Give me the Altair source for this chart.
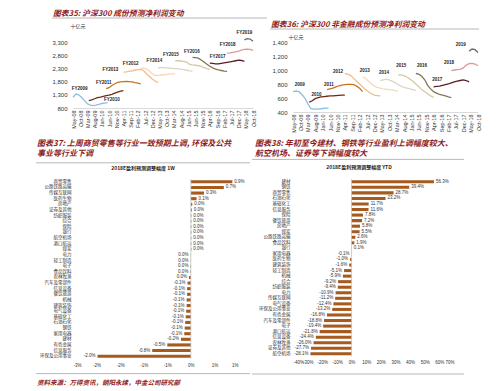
import json
import altair as alt
import pandas as pd

CJK = "Noto Sans CJK SC"
NUM = "Liberation Sans"
TITLE_RED = "#8e1b1b"
BAR = "#a65a1e"
RULE_GRAY = "#a6a6a6"

# ---------------- line charts data ----------------
month_labels = ["May-08", "Oct-08", "Mar-09", "Aug-09", "Jan-10", "Jun-10", "Nov-10",
                "Apr-11", "Sep-11", "Feb-12", "Jul-12", "Dec-12", "May-13", "Oct-13",
                "Mar-14", "Aug-14", "Jan-15", "Jun-15", "Nov-15", "Apr-16", "Sep-16",
                "Feb-17", "Jul-17", "Dec-17", "May-18", "Oct-18"]
fy_names = ["FY2009", "FY2010", "FY2011", "FY2012", "FY2013", "FY2014",
            "FY2015", "FY2016", "FY2017", "FY2018", "FY2019"]
yr_names = ["2009", "2010", "2011", "2012", "2013", "2014",
            "2015", "2016", "2017", "2018", "2019"]
# first month of each forecast series (0 = May-08), points every 2 months
start_months = [0, 11, 23, 35, 47, 59, 71, 83, 95, 107, 119]
line_colors = ["#8cbfe0", "#6e2a14", "#c9731e", "#f3bd8a", "#f5d9bd", "#dcd6c0",
               "#d6c9a3", "#857652", "#5a1c24", "#d99a9a", "#6b6b6b"]

hs300_fy2009 = [1200, 1330, 1300, 1200, 1080, 960, 910, 890, 910, 940, 970, 985, 1000]
hs300_fy2010 = [1080, 1110, 1150, 1190, 1210, 1240, 1270, 1290, 1320, 1360, 1400, 1440, 1460]
hs300_fy2011 = [1530, 1570, 1650, 1720, 1770, 1790, 1800, 1810, 1800, 1790, 1760, 1740, 1710]
hs300_fy2012 = [2160, 2170, 2190, 2210, 2230, 2250, 2260, 2220, 2100, 2000, 1900, 1820, 1760]
hs300_fy2013 = [2300, 2310, 2280, 2200, 2100, 2040, 2030, 2050, 2060, 2070, 2080, 2090, 2100]
hs300_fy2014 = [2320, 2330, 2330, 2320, 2310, 2300, 2290, 2280, 2270, 2250, 2230, 2210, 2200]
hs300_fy2015 = [2590, 2590, 2580, 2570, 2540, 2450, 2430, 2420, 2400, 2380, 2330, 2290, 2260]
hs300_fy2016 = [2720, 2710, 2690, 2620, 2540, 2460, 2380, 2320, 2270, 2240, 2220, 2200, 2190]
hs300_fy2017 = [2500, 2490, 2470, 2470, 2490, 2510, 2530, 2550, 2570, 2590, 2610, 2600, 2570]
hs300_fy2018 = [2880, 2890, 2910, 2930, 2950, 2990, 3020, 3030, 3020, 2980]
hs300_fy2019 = [3380, 3430, 3410, 3330]
hs300_series = [hs300_fy2009, hs300_fy2010, hs300_fy2011, hs300_fy2012, hs300_fy2013,
                hs300_fy2014, hs300_fy2015, hs300_fy2016, hs300_fy2017, hs300_fy2018,
                hs300_fy2019]
label_month_35 = [4.6, 27, 21.3, 40, 26, 56.5, 68, 82.6, 100.5, 107.4, 119]
label_value_35 = [1532, 1103, 1760, 2467, 2240, 2580, 2795, 2921, 2744, 3174, 3641]

nonfin_2009 = [690, 700, 690, 650, 600, 520, 450, 440, 440, 445, 450, 455, 455]
nonfin_2010 = [540, 560, 590, 605, 615, 620, 625, 630, 630, 635, 638, 640, 640]
nonfin_2011 = [720, 730, 740, 760, 775, 785, 790, 795, 795, 790, 770, 740, 690]
nonfin_2012 = [950, 940, 920, 880, 840, 800, 760, 720, 690, 660, 640, 635, 630]
nonfin_2013 = [900, 880, 840, 800, 770, 750, 740, 730, 725, 720, 715, 705, 700]
nonfin_2014 = [850, 860, 870, 860, 840, 820, 790, 770, 750, 740, 730, 720, 710]
nonfin_2015 = [930, 930, 920, 900, 870, 840, 800, 760, 720, 690, 660, 630, 610]
nonfin_2016 = [950, 940, 910, 860, 780, 730, 690, 670, 650, 640, 630, 615, 605]
nonfin_2017 = [760, 765, 770, 780, 790, 800, 815, 830, 840, 850, 860, 850, 830]
nonfin_2018 = [990, 1000, 1005, 1010, 1030, 1070, 1090, 1095, 1085, 1060]
nonfin_2019 = [1270, 1300, 1290, 1250]
nonfin_series = [nonfin_2009, nonfin_2010, nonfin_2011, nonfin_2012, nonfin_2013,
                 nonfin_2014, nonfin_2015, nonfin_2016, nonfin_2017, nonfin_2018,
                 nonfin_2019]
label_month_36 = [4.5, 15.8, 24.3, 30.4, 48.4, 61.5, 73.2, 87.2, 97.5, 105.4, 113.3]
label_value_36 = [790, 638, 781, 971, 986, 962, 1057, 1057, 862, 1100, 1362]

# ---------------- bar charts data ----------------
cats_1w = ["商贸零售", "公路铁路运输", "传媒互联网", "医药生物", "房地产", "证券及其他",
           "纺织服装", "综合", "保险", "银行", "航空机场", "港口航运", "煤炭", "电力",
           "轻工制造", "电子", "食品饮料", "农林牧渔", "汽车及零部件", "信息设备",
           "餐饮旅游", "机械", "建筑装饰", "电气设备", "基础化工", "石油石化", "钢铁",
           "家用电器", "建材", "有色金属", "信息服务", "环保及公用事业"]
vals_1w = [0.88, 0.70, 0.28, 0.12, 0.03, 0.02, 0.01, 0.01, 0.01, 0.01, 0.01, 0.01, 0.01,
           -0.005, -0.005, -0.01, -0.01, -0.04, -0.07, -0.08, -0.08, -0.09, -0.09, -0.1,
           -0.11, -0.12, -0.13, -0.14, -0.21, -0.5, -0.82, -1.98]
ticks_1w = [-2.5, -2.0, -1.5, -1.0, -0.5, 0.0, 0.5, 1.0]
tick_labels_1w = ["-3%", "-2%", "-2%", "-1%", "-1%", "0%", "1%", "1%"]

cats_ytd = ["建材", "钢铁", "商贸零售", "石油石化", "基础化工", "信息服务", "保险",
            "餐饮旅游", "房地产", "煤炭", "公路铁路运输", "食品饮料", "银行", "家用电器",
            "医药生物", "建筑装饰", "轻工制造", "机械", "综合", "纺织服装", "电力",
            "传媒互联网", "电气设备", "环保及公用事业", "有色金属", "汽车及零部件", "电子",
            "港口航运", "信息设备", "农林牧渔", "证券及其他", "航空机场"]
vals_ytd = [56.3, 39.4, 28.7, 23.2, 11.7, 11.6, 7.8, 7.2, 5.8, 5.5, 2.6, 1.9, 0.1, -0.1,
            -1.0, -1.6, -5.1, -5.9, -9.2, -9.4, -10.9, -11.2, -12.4, -13.2, -16.8, -18.8,
            -19.4, -21.8, -24.4, -26.0, -27.7, -28.1]
ticks_ytd = [-40, -30, -20, -10, 0, 10, 20, 30, 40, 50, 60, 70]
tick_labels_ytd = ["-40%", "-30%", "-20%", "-10%", "0%", "10%", "20%", "30%", "40%",
                   "50%", "60%", "70%"]

title_35 = "图表35: 沪深300 成份预测净利润变动"
title_36 = "图表36: 沪深300 非金融成份预测净利润变动"
title_37 = ["图表37: 上周商贸零售等行业一致预期上调, 环保及公共", "事业等行业下调"]
title_38 = ["图表38: 年初至今建材、钢铁等行业盈利上调幅度较大、", "航空机场、证券等下调幅度较大"]
sub_37 = "2018E盈利预测调整幅度 1W"
sub_38 = "2018E盈利预测调整幅度 YTD"
unit_text = "十亿元"
footer_text = "资料来源：万得资讯，朝阳永续，中金公司研究部"

one = pd.DataFrame({"k": [0]})


def series_frame(names, series):
    rows = []
    for name, start, vals in zip(names, start_months, series):
        for i, v in enumerate(vals):
            rows.append({"series": name, "month": start + 2 * i, "value": v})
    return pd.DataFrame(rows)


def text_at(text, x, y, size, color="#222", align="left", bold=False, italic=False,
            font=CJK, baseline="middle"):
    kw = dict(align=align, baseline=baseline, fontSize=size, font=font, color=color)
    if bold:
        kw["fontWeight"] = "bold"
    if italic:
        kw["fontStyle"] = "italic"
    return alt.Chart(one).mark_text(**kw).encode(
        x=alt.value(x), y=alt.value(y), text=alt.value(text))


def hrule(x0, x1, y):
    return alt.Chart(one).mark_rule(color=RULE_GRAY, strokeWidth=0.8).encode(
        x=alt.value(x0), x2=alt.value(x1), y=alt.value(y))


def line_panel(names, series, lab_m, lab_v, ydom, yticks, w, h, title, tpos, rpos, upos):
    df = series_frame(names, series)
    lab = pd.DataFrame({"series": names, "month": lab_m, "value": lab_v})
    expr = json.dumps(month_labels) + "[round(datum.value/5)]"
    x = alt.X("month:Q", scale=alt.Scale(domain=[0, 125], nice=False, zero=False),
              axis=alt.Axis(values=list(range(0, 126, 5)), labelExpr=expr, labelAngle=270,
                            labelFontSize=5.5, labelFont=NUM, labelColor="#333", ticks=False,
                            domainColor="#bfbfbf", domainWidth=0.6, grid=False, title=None,
                            labelPadding=2, labelOverlap=False))
    y = alt.Y("value:Q", scale=alt.Scale(domain=ydom, nice=False, zero=False),
              axis=alt.Axis(values=yticks, format=",.0f", domain=False, ticks=False,
                            grid=False, labelFontSize=6, labelFont=NUM, labelColor="#333",
                            title=None, labelPadding=6, labelOverlap=False))
    lines = alt.Chart(df).mark_line(strokeWidth=1.3).encode(
        x=x, y=y,
        color=alt.Color("series:N", scale=alt.Scale(domain=names, range=line_colors),
                        legend=None))
    labels = alt.Chart(lab).mark_text(fontSize=4.5, fontWeight="bold", font=NUM,
                                      color="#222").encode(x=x, y=y, text="series:N")
    return alt.layer(
        hrule(rpos[0], rpos[1], rpos[2]),
        lines, labels,
        text_at(title, tpos[0], tpos[1], 7.8, color=TITLE_RED, bold=True, italic=True),
        text_at(unit_text, upos[0], upos[1], 5, color="#333", align="center"),
    ).properties(width=w, height=h)


def bar_panel(cats, vals, xdom, ticks, tick_labels, w, h, title, tpos, rule_top, sub,
              spos, rule_bot, footer=None, label_pad=2):
    df = pd.DataFrame({"industry": cats, "v": vals})
    lab_expr = ("replace(format(abs(datum.v) < 0.05 ? 0 : datum.v, '.1f'), '\u2212', '-') + '%'")
    expr = json.dumps(tick_labels) + "[indexof(" + json.dumps(ticks) + ", datum.value)]"
    y = alt.Y("industry:N", sort=cats,
              scale=alt.Scale(paddingInner=0.45, paddingOuter=0.225),
              axis=alt.Axis(labelFontSize=4.5, labelFont=CJK, labelColor="#333", ticks=False,
                            domain=False, title=None, labelPadding=label_pad,
                            labelOverlap=False))
    xscale = alt.Scale(domain=xdom, nice=False, zero=False)
    xaxis = alt.Axis(values=ticks, labelExpr=expr, domain=False, ticks=False,
                     grid=False, labelFontSize=4.5, labelFont=NUM, labelColor="#333",
                     title=None, labelPadding=3, labelOverlap=False)
    x = alt.X("v:Q", scale=xscale, axis=xaxis)
    bars = alt.Chart(df).mark_bar(color=BAR).encode(x=x, x2=alt.datum(0), y=y)
    pos = alt.Chart(df).transform_filter("datum.v >= 0").transform_calculate(
        lab=lab_expr).mark_text(align="left", dx=2, fontSize=4.5, font=NUM,
                                color="#333").encode(x=x, y=y, text="lab:N")
    neg = alt.Chart(df).transform_filter("datum.v < 0").transform_calculate(
        lab=lab_expr).mark_text(align="right", dx=-2, fontSize=4.5, font=NUM,
                                color="#333").encode(x=x, y=y, text="lab:N")
    zero = alt.Chart(one).mark_rule(color="#bfbfbf", strokeWidth=0.7).encode(
        x=alt.XDatum(0, scale=xscale, axis=xaxis))
    layers = [
        hrule(rule_top[0], rule_top[1], rule_top[2]),
        hrule(rule_bot[0], rule_bot[1], rule_bot[2]),
        bars, zero, pos, neg,
        text_at(title[0], tpos[0], tpos[1], 8.0, color=TITLE_RED, bold=True, italic=True),
        text_at(title[1], tpos[0], tpos[1] + 9.8, 8.0, color=TITLE_RED, bold=True,
                italic=True),
        text_at(sub, spos[0], spos[1], 5, color="#222", align="center", bold=True),
    ]
    if footer:
        layers.append(text_at(footer[0], footer[1], footer[2], 6.5, color=TITLE_RED,
                              bold=True, italic=True))
    return alt.layer(*layers).properties(width=w, height=h)


panel35 = line_panel(fy_names, hs300_series, label_month_35, label_value_35, [800, 3300],
                     [800, 1300, 1800, 2300, 2800, 3300], 180, 66, title_35,
                     (-20, -27.7), (-21, 194, -24), (5, -16))
panel36 = line_panel(yr_names, nonfin_series, label_month_36, label_value_36, [400, 1400],
                     [400, 600, 800, 1000, 1200, 1400], 185, 70, title_36,
                     (-22, -16.7), (-23, 186, -13), (3, -5))

panel37 = bar_panel(cats_1w, vals_1w, [-2.5, 1.0], ticks_1w, tick_labels_1w, 165, 180,
                    title_37, (-36, -35.2), (-37, 177, -16.2), sub_37, (70, -11),
                    (-37, 177, 194.6), footer=(footer_text, -36, 203.5), label_pad=2)
panel38 = bar_panel(cats_ytd, vals_ytd, [-40, 70], ticks_ytd, tick_labels_ytd, 161, 177.6,
                    title_38, (-38, -35.2), (-41, 171, -19.6), sub_38, (66, -12.4),
                    (-41, 171, 195), label_pad=3)

row1 = alt.hconcat(panel35, panel36, spacing=1)
row2 = alt.hconcat(panel37, panel38, spacing=0)
chart = alt.vconcat(row1, row2, spacing=6).properties(
    padding={"left": 27, "top": 1, "right": 0, "bottom": 0},
    background="white",
).configure_view(stroke="transparent")

chart.save("out.html", embed_options={"renderer": "svg", "actions": False})
